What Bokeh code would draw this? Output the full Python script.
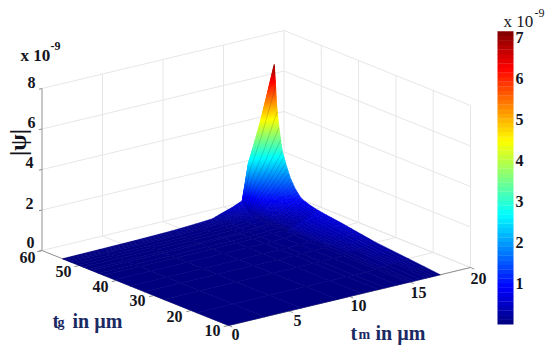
from bokeh.plotting import figure
from bokeh.embed import file_html
from bokeh.resources import INLINE
from bokeh.core.properties import value
import numpy as np

# ---------- data ----------
z_ticks = [0, 2, 4, 6, 8]
tg_ticks = [10, 20, 30, 40, 50, 60]
tm_ticks = [0, 5, 10, 15, 20]
cbar_ticks = [1, 2, 3, 4, 5, 6, 7]
tm_profile_x = [0, 3, 6, 9, 11, 12.4, 13, 14, 14.85, 15.1, 15.35, 15.85, 16.34, 16.9, 17.5]
tm_profile_z = [0.0, 0.02, 0.04, 0.08, 0.14, 0.2, 0.33, 0.52, 0.74, 1.6, 2.5, 3.45, 4.4, 5.7, 7.1]
tg_profile_d = [0, 0.3, 0.6, 1.07, 1.6, 2.1, 3.2, 4.3, 5.5, 7, 7.77, 9.6, 11, 14, 18.15, 22, 27.1, 36, 44.5]
tg_profile_z = [7.1, 6.2, 5.2, 4.3, 3.6, 3.0, 2.35, 1.8, 1.4, 1.05, 0.96, 0.85, 0.78, 0.69, 0.59, 0.47, 0.32, 0.16, 0.0]
TM_MAX = 17.5
TG_MAX = 54.5
Z_PEAK = 7.1

# ---------- projection ----------
def proj(tm, tg, z):
    tm = np.asarray(tm, float); tg = np.asarray(tg, float); z = np.asarray(z, float)
    return 228 + 12.1 * tm - 3.73 * (tg - 10), 325 - 2.9 * tm - 1.5 * (tg - 10) - 20.25 * z

def jet(v):
    v = np.clip(v, 0, 1)
    r = np.clip(min(4 * v - 1.5, -4 * v + 4.5), 0, 1)
    g = np.clip(min(4 * v - 0.5, -4 * v + 3.5), 0, 1)
    b = np.clip(min(4 * v + 0.5, -4 * v + 2.5), 0, 1)
    return "#%02x%02x%02x" % (int(r * 255), int(g * 255), int(b * 255))

ZMAX = 7.15
def col(z):
    return jet(z / ZMAX)

def height(tm, d):
    return np.interp(tm, tm_profile_x, tm_profile_z) * np.interp(d, tg_profile_d, tg_profile_z) / Z_PEAK

p = figure(width=550, height=349, x_range=(0, 550), y_range=(349, 0), toolbar_location=None,
           output_backend="svg", min_border=0, outline_line_color=None, background_fill_color="white")
p.axis.visible = False
p.grid.visible = False

# ---------- box grid ----------
GRID = "#e6e6e6"
AX = "#909090"
for z in z_ticks[1:]:
    x2, y2 = proj([0, 20, 20], [60, 60, 10], [z, z, z])
    p.line(x2, y2, line_color=GRID, line_width=1)
x, y = proj([0, 20, 20], [60, 60, 10], [0, 0, 0])
p.line(x, y, line_color=GRID, line_width=1)
for tm in tm_ticks[1:]:
    x, y = proj([tm, tm], [60, 60], [0, 8])
    p.line(x, y, line_color=GRID, line_width=1)
    x, y = proj([tm, tm], [10, 60], [0, 0])
    p.line(x, y, line_color=GRID, line_width=1)
for tg in tg_ticks[:-1]:
    x, y = proj([20, 20], [tg, tg], [0, 8])
    p.line(x, y, line_color=GRID, line_width=1)
    x, y = proj([0, 20], [tg, tg], [0, 0])
    p.line(x, y, line_color=GRID, line_width=1)
x, y = proj([0, 0], [60, 60], [0, 8]); p.line(x, y, line_color=AX, line_width=1)
x, y = proj([0, 0, 20], [60, 10, 10], [0, 0, 0]); p.line(x, y, line_color=AX, line_width=1)
# small ticks
for z in z_ticks:
    x, y = proj([0, -0.25], [60, 60], [z, z]); p.line(x, y, line_color=AX, line_width=1)
for tg in tg_ticks:
    x, y = proj([0, -0.4], [tg, tg], [0, 0]); p.line(x, y, line_color=AX, line_width=1)
for tm in tm_ticks:
    x, y = proj([tm, tm], [10, 9], [0, 0]); p.line(x, y, line_color=AX, line_width=1)

# ---------- surface ----------
tm_grid = [0, 3, 6, 9, 11, 12.4, 13, 14, 14.85, 15.1, 15.35, 15.85, 16.34, 16.9, 17.5]
tg_d = tg_profile_d
xs, ys, cs = [], [], []
for j in range(len(tg_d) - 1):            # far (small d) to near
    for i in range(len(tm_grid) - 2, -1, -1):
        t0, t1 = tm_grid[i], tm_grid[i + 1]
        d0, d1 = tg_d[j], tg_d[j + 1]
        zs = [height(t, d) for t in (t0, t1) for d in (d0, d1)]
        n = int(min(14, max(1, np.ceil((max(zs) - min(zs)) / 0.1))))
        ts = [t1 + (t0 - t1) * k / n for k in range(n + 1)]
        ds = [d0 + (d1 - d0) * k / n for k in range(n + 1)]
        for a in range(n):
            for b in range(n):
                tt = [ts[b], ts[b + 1], ts[b + 1], ts[b]]
                dd = [ds[a], ds[a], ds[a + 1], ds[a + 1]]
                zz = [height(u, v) for u, v in zip(tt, dd)]
                px, py = proj(tt, [TG_MAX - v for v in dd], zz)
                xs.append(list(px)); ys.append(list(py)); cs.append(col(float(np.mean(zz))))
p.patches(xs, ys, fill_color=cs, line_color=cs, line_width=0.6)

# mesh lines of constant tg on the steep part
for d in np.arange(0.35, 12, 0.45):
    tt = np.linspace(14.85, TM_MAX, 24)
    zz = [height(t, d) for t in tt]
    x, y = proj(tt, TG_MAX - d, zz)
    p.line(x, y, line_color="#000000", line_alpha=0.2, line_width=0.8)

# ---------- text ----------
serif = value("Liberation Serif")
TXT = "#141420"
def label(x, y, s, size=16, color=TXT, angle=0, align="center", style="bold"):
    p.text([x], [y], text=[s], text_font=serif, text_font_size=f"{size}px", text_font_style=style,
           text_color=color, text_align=align, text_baseline="middle", angle=angle)

for s, xx, yy in zip(z_ticks, [30, 29, 29, 31, 31], [242, 203, 162, 122, 82]):
    label(xx, yy, str(s))
for s, xx, yy in zip(tg_ticks[::-1], [27, 63, 100, 137, 174, 212], [257, 271, 286, 300, 316, 330]):
    label(xx, yy, str(s))
for s, xx, yy in zip(tm_ticks, [235, 297, 358, 418, 478], [334, 320, 305, 292, 278]):
    label(xx, yy, str(s))
label(17, 142, "|ψ|", 24, angle=np.pi / 2)
label(20, 55, "x 10", 17, align="left")
label(50, 45, "-9", 12, align="left")
NAVY = "#1b2a63"
label(52, 320, "t", 20, NAVY, align="left")
label(57, 322, "g", 14, NAVY, align="left")
label(72, 320, "in µm", 20, NAVY, align="left")
label(350, 332, "t", 20, NAVY, align="left")
label(358, 334, "m", 14, NAVY, align="left")
label(375, 332, "in µm", 20, NAVY, align="left")

# ---------- colour bar ----------
cb = 64
vals = np.linspace(0, ZMAX, cb + 1)
y_of = lambda v: 324 - (324 - 31) * np.asarray(v) / ZMAX
p.quad(left=[497] * cb, right=[513] * cb, top=list(y_of(vals[1:]) - 0.3), bottom=list(y_of(vals[:-1])),
       fill_color=[jet((k + .5) / cb) for k in range(cb)], line_color=None)
for v in cbar_ticks:
    label(519, float(y_of(v)), str(v), 16)
label(503, 21, "x 10", 17, align="left", style="normal")
label(534, 12, "-9", 12, align="left", style="normal")

open("out.html", "w").write(file_html(p, INLINE))
